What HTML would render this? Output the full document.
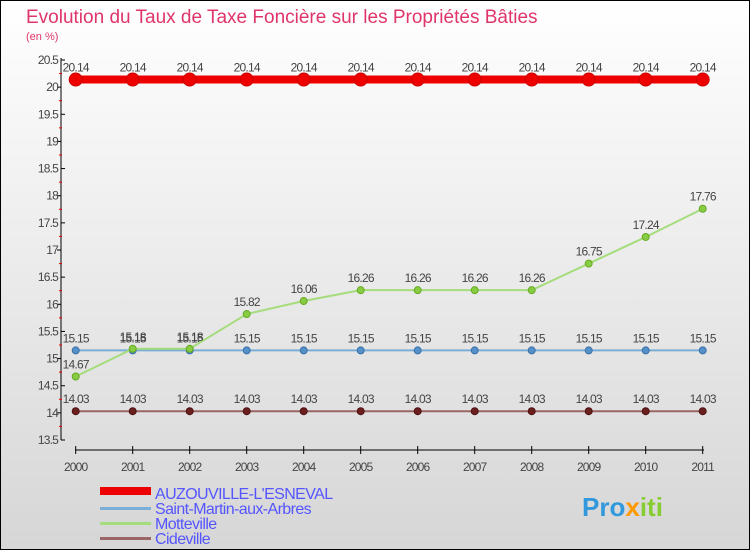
<!DOCTYPE html>
<html><head><meta charset="utf-8"><style>
body{margin:0;width:750px;height:550px;overflow:hidden}
svg{display:block;font-family:"Liberation Sans",sans-serif}
</style></head><body>
<svg width="750" height="550" id="c">
<defs><linearGradient id="bg" x1="0" y1="0" x2="0" y2="1"><stop offset="0" stop-color="#ffffff"/><stop offset="1" stop-color="#d6d6d6"/></linearGradient></defs>
<rect x="0.5" y="0.5" width="749" height="549" fill="url(#bg)" stroke="#000"/>
<text x="26" y="23" font-size="19" fill="#e0356a">Evolution du Taux de Taxe Foncière sur les Propriétés Bâties</text>
<text x="26" y="40" font-size="11" fill="#e0356a">(en %)</text>
<g id="axes"></g><g id="series"></g>
<g font-size="16" fill="#5555ff">
<rect x="100" y="487" width="51" height="8" fill="#ee0000"/>
<text x="155" y="499" letter-spacing="-0.6">AUZOUVILLE-L'ESNEVAL</text>
<rect x="100" y="507" width="51" height="3" fill="#7aaed6"/>
<text x="155" y="514" letter-spacing="-0.6">Saint-Martin-aux-Arbres</text>
<rect x="100" y="522" width="51" height="3" fill="#a5dc7c"/>
<text x="155" y="529" letter-spacing="-0.6">Motteville</text>
<rect x="100" y="537" width="51" height="3" fill="#9a6666"/>
<text x="155" y="544" letter-spacing="-0.6">Cideville</text>
</g>
<text x="582" y="516" font-size="26" font-weight="bold" fill="#3399dd">Pro<tspan fill="#ff9900">x</tspan><tspan fill="#88cc33">iti</tspan></text>
</svg>
<script>
const years=[2000,2001,2002,2003,2004,2005,2006,2007,2008,2009,2010,2011];
const auzouville=[20.14,20.14,20.14,20.14,20.14,20.14,20.14,20.14,20.14,20.14,20.14,20.14];
const saintMartin=[15.15,15.15,15.15,15.15,15.15,15.15,15.15,15.15,15.15,15.15,15.15,15.15];
const motteville=[14.67,15.18,15.18,15.82,16.06,16.26,16.26,16.26,16.26,16.75,17.24,17.76];
const cideville=[14.03,14.03,14.03,14.03,14.03,14.03,14.03,14.03,14.03,14.03,14.03,14.03];
const yTicks=[13.5,14,14.5,15,15.5,16,16.5,17,17.5,18,18.5,19,19.5,20,20.5];
const NS="http://www.w3.org/2000/svg";
const X=i=>75.7+i*57;
const Y=v=>440-(v-13.5)*(380/7);
function mk(p,t,a){const e=document.createElementNS(NS,t);for(const k in a)e.setAttribute(k,a[k]);p.appendChild(e);return e;}
const ax=document.getElementById('axes');
let l=mk(ax,'line',{x1:61,y1:58,x2:61,y2:440,stroke:'#000'});


l=mk(ax,'line',{x1:75,y1:450,x2:704,y2:450,stroke:'#000'});


yTicks.forEach((v,i)=>{
 mk(ax,'line',{x1:i%2?57:61,x2:i%2?61:65,y1:Y(v),y2:Y(v),stroke:'#000'});
 if(i<yTicks.length-1) mk(ax,'line',{x1:59,x2:62,y1:Y(v+0.25),y2:Y(v+0.25),stroke:'#e00'});
 const t=mk(ax,'text',{x:58,y:Y(v)+4,'font-size':12,fill:'#444','text-anchor':'end','letter-spacing':'-0.8'});
 t.textContent=String(v);
 
 
});
years.forEach((y,i)=>{
 mk(ax,'line',{x1:X(i),x2:X(i),y1:446,y2:454,stroke:'#000'});
 const t=mk(ax,'text',{x:X(i),y:471,'font-size':12,fill:'#444','text-anchor':'middle','letter-spacing':'-0.8'});
 t.textContent=y;
 
 
});
const sg=document.getElementById('series');
function series(name,vals,col,w,r,dot,stroke){
 const g=mk(sg,'g',{});
 
 
 mk(g,'polyline',{points:vals.map((v,i)=>X(i)+','+Y(v)).join(' '),fill:'none',stroke:col,'stroke-width':w});
 vals.forEach((v,i)=>{
  const c=mk(g,'circle',{cx:X(i),cy:Y(v),r:r,fill:dot,stroke:stroke,'stroke-width':1});
  
  
  const t=mk(g,'text',{x:X(i),y:Y(v)-8,'font-size':12,fill:'#444','text-anchor':'middle','letter-spacing':'-0.8'});
  t.textContent=v.toFixed(2);
  
  
 });
}
series('cideville',cideville,'#9a6666',2,3.5,'#6b1f1f','#501010');
series('saint-martin',saintMartin,'#7aaed6',2,3.5,'#5590c8','#3a70a8');
series('motteville',motteville,'#a5dc7c',2,3.5,'#88cc44','#66aa22');
series('auzouville',auzouville,'#ee0000',8,6.5,'#ee0000','#cc0000');
</script>
</body></html>
